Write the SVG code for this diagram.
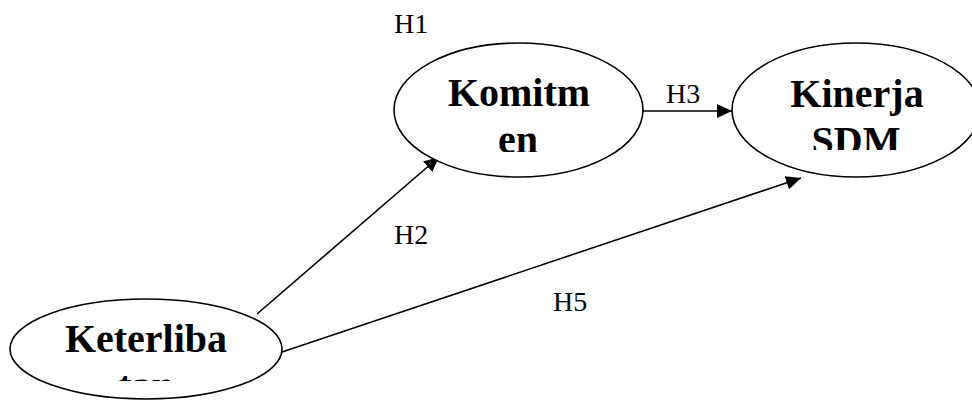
<svg xmlns="http://www.w3.org/2000/svg" width="972" height="402" viewBox="0 0 972 402">
<style>
.node{fill:#fff;stroke:#000;stroke-width:1.6}
.lbl{font-family:"Liberation Serif","Times New Roman",serif;font-weight:bold;font-size:40px;fill:#000;text-anchor:middle}
.h{font-family:"Liberation Serif","Times New Roman",serif;font-size:28px;fill:#000}
.edge{stroke:#000;stroke-width:1.6;fill:none}
</style>
<defs>
<marker id="arr" markerUnits="userSpaceOnUse" markerWidth="16" markerHeight="14" refX="15" refY="7" orient="auto">
<path d="M0,0 L15,7 L0,14 z" fill="#000"/>
</marker>
<clipPath id="c1"><rect x="394" y="40" width="250" height="112"/></clipPath>
<clipPath id="c2"><rect x="731" y="40" width="250" height="110"/></clipPath>
<clipPath id="c3"><rect x="9" y="297" width="275" height="84"/></clipPath>
</defs>
<rect width="972" height="402" fill="#fff"/>
<g id="connectors">
<line class="edge" x1="257" y1="314" x2="439" y2="157" marker-end="url(#arr)"/>
<line class="edge" x1="282" y1="352" x2="801" y2="178" marker-end="url(#arr)"/>
<line class="edge" x1="643" y1="111" x2="732" y2="111" marker-end="url(#arr)"/>
</g>
<g id="komitmen">
<ellipse class="node" cx="518.5" cy="110" rx="124.5" ry="67"/>
<g clip-path="url(#c1)">
<text class="lbl" x="519" y="106">Komitm</text>
<text class="lbl" x="518" y="153">en</text>
</g>
</g>
<g id="kinerja">
<ellipse class="node" cx="856" cy="110" rx="124" ry="67"/>
<g clip-path="url(#c2)">
<text class="lbl" x="857" y="107">Kinerja</text>
<text class="lbl" x="856" y="154">SDM</text>
</g>
</g>
<g id="keterlibatan">
<ellipse class="node" cx="146" cy="349" rx="136" ry="50"/>
<g clip-path="url(#c3)">
<text class="lbl" x="146" y="352">Keterliba</text>
<text class="lbl" x="146" y="399">tan</text>
</g>
</g>
<g id="labels">
<text class="h" x="394" y="33">H1</text>
<text class="h" x="394" y="244">H2</text>
<text class="h" x="666" y="103">H3</text>
<text class="h" x="553" y="311">H5</text>
</g>
</svg>
